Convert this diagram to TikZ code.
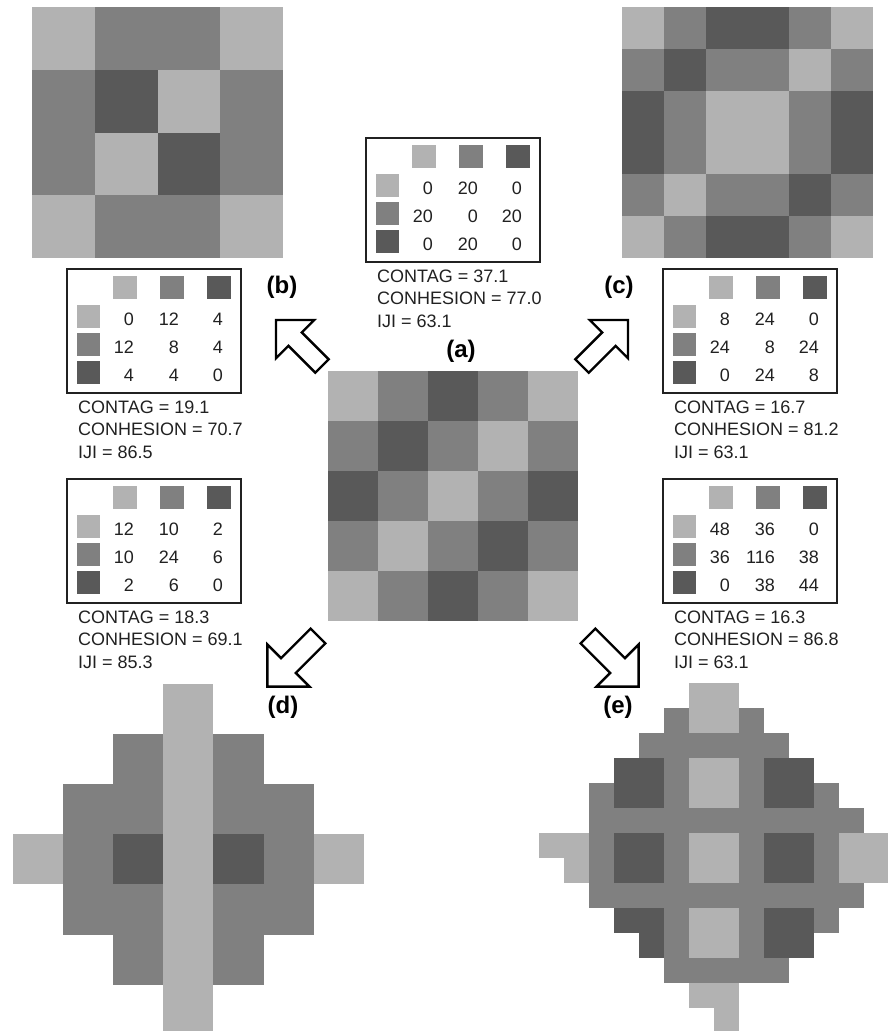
\documentclass[tikz,border=0pt]{standalone}
\usepackage{fontspec}
\setmainfont{Liberation Sans}

\definecolor{cL}{gray}{0.70}
\definecolor{cM}{gray}{0.50}
\definecolor{cD}{gray}{0.35}
\definecolor{ink}{gray}{0.13}

\tikzset{
  tabbox/.style={draw=ink,line width=1.6pt,anchor=north west,inner sep=0pt,
    minimum width=174pt,minimum height=124pt},
  num/.style={anchor=east,inner sep=0pt,text=ink,font=\fontsize{18}{18}\selectfont},
  stat/.style={anchor=west,inner sep=0pt,text=ink,font=\fontsize{18}{18}\selectfont},
  lab/.style={inner sep=0pt,font=\fontsize{24}{24}\selectfont\bfseries},
  blockarrow/.style={draw=black,line width=2.4pt,fill=white,line join=miter}
}

% grid of cells, W = empty
\newcommand{\landgrid}[3]{%
  \begin{scope}[shift={#1}]
  \foreach \row [count=\r from 0] in {#3}{
    \foreach \c [count=\k from 0] in \row{
      \if\c W\else\fill[c\c] (\k*#2,\r*#2) rectangle ++(#2,#2);\fi
    }
  }
  \end{scope}}

% adjacency table with the three indices below it
\newcommand{\adjtable}[6]{%
  \node[tabbox] (#1) at #2 {};
  \begin{scope}[shift={(#1.north west)}]
  \foreach \s [count=\k from 0] in {L,M,D}{
    \fill[c\s] (46.5+47*\k,8) rectangle ++(24,23);
    \fill[c\s] (11,37+28*\k) rectangle ++(23,23);
  }
  \foreach \p/\q/\t [count=\k from 0] in {#3}{
    \node[num] (#1-\k-1) at (68,51+28*\k) {\p};
    \node[num] (#1-\k-2) at (113,51+28*\k) {\q};
    \node[num] (#1-\k-3) at (157,51+28*\k) {\t};
  }
  \node[stat] (#1-contag) at (12,139) {CONTAG = #4};
  \node[stat] (#1-conh) at (12,161) {CONHESION = #5};
  \node[stat] (#1-iji) at (12,184) {IJI = #6};
  \end{scope}}

% #1 tail, #2 direction, #3 size
\newcommand{\blockarrow}[3]{%
  \draw[blockarrow,shift={#1},rotate=#2,scale=#3]
    (0,-9.5) -- (38,-9.5) -- (38,-27) -- (65,0) -- (38,27) -- (38,9.5) -- (0,9.5) -- cycle;}

\begin{document}
\begin{tikzpicture}[x=1pt,y=-1pt]
\useasboundingbox (0,0) rectangle (887,1031);

% maps
\landgrid{(328,371)}{50}{{L,M,D,M,L},{M,D,M,L,M},{D,M,L,M,D},{M,L,M,D,M},{L,M,D,M,L}}
\landgrid{(32,7)}{62.75}{{L,M,M,L},{M,D,L,M},{M,L,D,M},{L,M,M,L}}
\landgrid{(622,7)}{41.75}{{L,M,D,D,M,L},{M,D,M,M,L,M},{D,M,L,L,M,D},{D,M,L,L,M,D},{M,L,M,M,D,M},{L,M,D,D,M,L}}
\landgrid{(13,684)}{50.1}{{W,W,W,L,W,W,W},{W,W,M,L,M,W,W},{W,M,M,L,M,M,W},{L,M,D,L,D,M,L},{W,M,M,L,M,M,W},{W,W,M,L,M,W,W},{W,W,W,L,W,W,W}}
\landgrid{(539,683)}{25}{%
  {W,W,W,W,W,W,L,L,W,W,W,W,W,W},
  {W,W,W,W,W,M,L,L,M,W,W,W,W,W},
  {W,W,W,W,M,M,M,M,M,M,W,W,W,W},
  {W,W,W,D,D,M,L,L,M,D,D,W,W,W},
  {W,W,M,D,D,M,L,L,M,D,D,M,W,W},
  {W,W,M,M,M,M,M,M,M,M,M,M,M,W},
  {L,L,M,D,D,M,L,L,M,D,D,M,L,L},
  {W,L,M,D,D,M,L,L,M,D,D,M,L,L},
  {W,W,M,M,M,M,M,M,M,M,M,M,M,W},
  {W,W,W,D,D,M,L,L,M,D,D,M,W,W},
  {W,W,W,W,D,M,L,L,M,D,D,W,W,W},
  {W,W,W,W,W,M,M,M,M,M,W,W,W,W},
  {W,W,W,W,W,W,L,L,W,W,W,W,W,W},
  {W,W,W,W,W,W,W,L,W,W,W,W,W,W}}

% tables
\adjtable{ta}{(365,137)}{0/20/0,20/0/20,0/20/0}{37.1}{77.0}{63.1}
\adjtable{tb}{(66,268)}{0/12/4,12/8/4,4/4/0}{19.1}{70.7}{86.5}
\adjtable{tc}{(662,268)}{8/24/0,24/8/24,0/24/8}{16.7}{81.2}{63.1}
\adjtable{td}{(66,478)}{12/10/2,10/24/6,2/6/0}{18.3}{69.1}{85.3}
\adjtable{te}{(662,478)}{48/36/0,36/116/38,0/38/44}{16.3}{86.8}{63.1}

% labels
\node[lab] (la) at (461,351) {(a)};
\node[lab] (lb) at (282,287) {(b)};
\node[lab] (lc) at (619,287) {(c)};
\node[lab] (ld) at (283,707) {(d)};
\node[lab] (le) at (618,707) {(e)};

% arrows
\blockarrow{(322,366)}{135}{1}
\blockarrow{(582,366)}{45}{1}
\blockarrow{(318,636)}{225}{1.1}
\blockarrow{(588,636)}{315}{1.1}
\end{tikzpicture}
\end{document}
